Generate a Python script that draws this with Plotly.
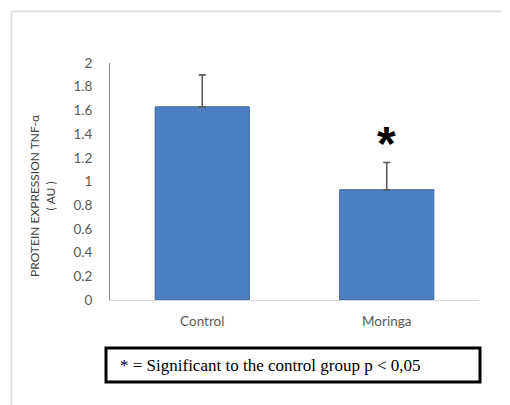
import plotly.graph_objects as go

categories = ["Control", "Moringa"]
values = [1.63, 0.93]
errors_up = [0.27, 0.23]
y_ticks = [0, 0.2, 0.4, 0.6, 0.8, 1, 1.2, 1.4, 1.6, 1.8, 2]
y_tick_labels = ["0", "0.2", "0.4", "0.6", "0.8", "1", "1.2", "1.4", "1.6", "1.8", "2"]
star_value = 1.32
y_title = "PROTEIN EXPRESSION TNF-α<br>( AU )"
note_text = "* = Significant to the control group p < 0,05"

OFF = 8  # default page body margin
W, H = 510 - OFF, 405 - OFF
L, T = 110 - OFF, 63 - OFF
R = W - (479 - OFF)
B = H - (300 - OFF)
pw, ph = W - L - R, H - T - B

def px(x):
    return (x - OFF - L) / pw

def py(y):
    return (H - B - (y - OFF)) / ph

fig = go.Figure()
fig.add_trace(go.Bar(
    x=categories, y=values,
    marker=dict(color="#4D80C3", line=dict(color="#3A6192", width=1)),
    error_y=dict(type="data", array=errors_up, arrayminus=[0, 0], symmetric=False,
                 color="#5A5A5A", thickness=1.6, width=3.5),
    width=0.51,
))

fig.add_annotation(x=categories[1], y=star_value, xref="x", yref="y", text="<b>*</b>",
                   showarrow=False, font=dict(size=48, color="#000000", family="Liberation Sans"),
                   yanchor="middle")

fig.add_annotation(x=px(42), y=py(196), xref="paper", yref="paper", text=y_title,
                   textangle=-90, showarrow=False, xanchor="center", yanchor="middle",
                   font=dict(size=12, color="#404040", family="Lato"))

shapes = [
    dict(type="line", xref="paper", yref="paper", x0=px(11.5), x1=px(520), y0=py(11.5), y1=py(11.5),
         line=dict(color="#D9D9D9", width=1.5)),
    dict(type="line", xref="paper", yref="paper", x0=px(11.5), x1=px(11.5), y0=py(11.5), y1=py(420),
         line=dict(color="#D9D9D9", width=1.5)),
    dict(type="rect", xref="paper", yref="paper", x0=px(106), x1=px(480), y0=py(382), y1=py(348),
         line=dict(color="#000000", width=3), fillcolor="rgba(0,0,0,0)"),
]
fig.add_annotation(x=px(270), y=py(365), xref="paper", yref="paper", text=note_text,
                   showarrow=False, xanchor="center", yanchor="middle",
                   font=dict(size=17, color="#000000", family="Liberation Serif"))

fig.update_layout(
    width=W, height=H,
    margin=dict(l=L, r=R, t=T, b=B),
    paper_bgcolor="white", plot_bgcolor="white",
    showlegend=False,
    shapes=shapes,
    xaxis=dict(showline=True, linecolor="#D9D9D9", linewidth=1.2, ticks="",
               tickfont=dict(size=13.5, color="#595959", family="Lato"), showgrid=False,
               zeroline=False, ticklabelstandoff=9),
    yaxis=dict(range=[0, 2], showline=True, linecolor="#868686", linewidth=1, ticks="",
               tickvals=y_ticks, ticktext=y_tick_labels, showgrid=False, zeroline=False,
               tickfont=dict(size=13.5, color="#595959", family="Lato"), ticklabelstandoff=14),
)

fig.write_html("out.html")
